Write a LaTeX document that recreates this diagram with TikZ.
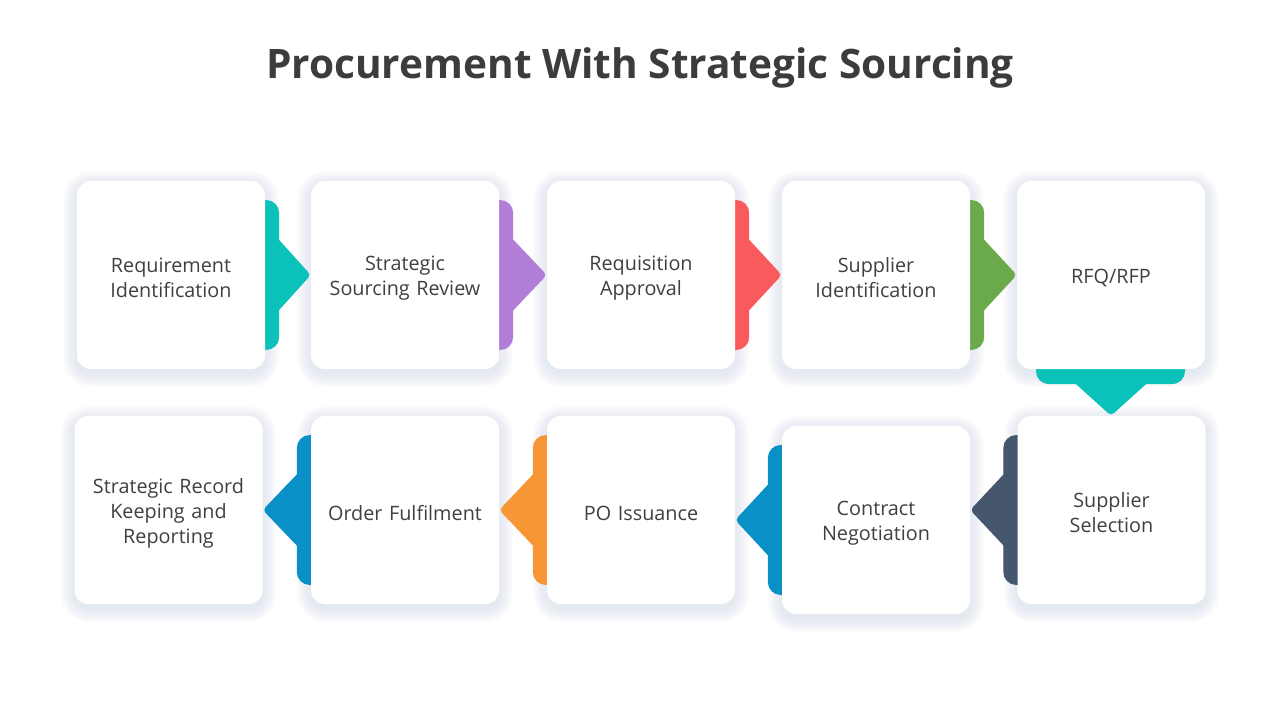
\documentclass[tikz,border=0pt]{standalone}
\usepackage{fontspec}
\setmainfont{Open Sans}
\usetikzlibrary{calc}
\definecolor{txt}{HTML}{404040}
\definecolor{ttl}{HTML}{3C3C3C}
\definecolor{cteal}{HTML}{0AC2BA}
\definecolor{cpurple}{HTML}{B27DD7}
\definecolor{cred}{HTML}{F95A5D}
\definecolor{cgreen}{HTML}{6BAA4A}
\definecolor{cslate}{HTML}{46566D}
\definecolor{cblue}{HTML}{0990C6}
\definecolor{corange}{HTML}{F79634}
\definecolor{shadowc}{RGB}{190,199,218}
\pgfdeclarelayer{shadowlayer}
\pgfdeclarelayer{connlayer}
\pgfsetlayers{shadowlayer,connlayer,main}
\newcommand{\rconn}[3]{%
  \fill[#3, rounded corners=13pt] ($(#1.east)+(-20,-75)$) rectangle ($(#1.east)+(14,75)$);
  \fill[#3, rounded corners=4pt] ($(#1.east)+(4,-46)$) -- (#2.west |- #1.east) -- ($(#1.east)+(4,46)$) -- cycle;
}
\newcommand{\lconn}[3]{%
  \fill[#3, rounded corners=13pt] ($(#1.west)+(20,-75)$) rectangle ($(#1.west)+(-14,75)$);
  \fill[#3, rounded corners=4pt] ($(#1.west)+(-4,-46)$) -- (#2.east |- #1.west) -- ($(#1.west)+(-4,46)$) -- cycle;
}
\newcommand{\boxshadow}[1]{%
  \foreach \i in {1,...,14}{
    \fill[shadowc, opacity=0.022, rounded corners=14pt+\i pt]
      ($(#1.north west)+(-\i,-\i+4)$) rectangle ($(#1.south east)+(\i,\i+4)$);
  }
}
\begin{document}
\begin{tikzpicture}[x=1pt,y=-1pt,
  box/.style={rectangle, rounded corners=14pt, fill=white, minimum width=188pt,
    minimum height=188pt, inner sep=0pt},
  lbl/.style={inner sep=0pt, text width=180pt, align=center,
    font=\fontsize{19.8}{25}\selectfont, text=txt}]
\useasboundingbox (0,0) rectangle (1280,720);
\node[font=\bfseries\fontsize{40.6}{48}\selectfont, text=ttl] (title) at (640,68) {Procurement With Strategic Sourcing};
% boxes
\node[box] (b1) at (171,275) {};
\node[box] (b2) at (405,275) {};
\node[box] (b3) at (641,275) {};
\node[box] (b4) at (876,275) {};
\node[box] (b5) at (1111,275) {};
\node[box] (b6) at (1111.5,510) {};
\node[box] (b7) at (876,520) {};
\node[box] (b8) at (641,510) {};
\node[box] (b9) at (405,510) {};
\node[box] (b10) at (168.5,510) {};
% texts
\node[lbl] (t1) at ($(b1)+(0,3)$) {Requirement\\Identification};
\node[lbl] (t2) at ($(b2)+(0,3)$) {Strategic\\Sourcing Review};
\node[lbl] (t3) at ($(b3)+(0,3)$) {Requisition\\Approval};
\node[lbl] (t4) at ($(b4)+(0,3)$) {Supplier\\Identification};
\node[lbl] (t5) at ($(b5)+(0,3)$) {RFQ/RFP};
\node[lbl] (t6) at ($(b6)+(0,3)$) {Supplier\\Selection};
\node[lbl] (t7) at ($(b7)+(0,3)$) {Contract\\Negotiation};
\node[lbl] (t8) at ($(b8)+(0,3)$) {PO Issuance};
\node[lbl] (t9) at ($(b9)+(0,3)$) {Order Fulfilment};
\node[lbl] (t10) at ($(b10)+(0,3)$) {Strategic Record\\Keeping and\\Reporting};
\begin{pgfonlayer}{connlayer}
  \rconn{b1}{b2}{cteal}
  \rconn{b2}{b3}{cpurple}
  \rconn{b3}{b4}{cred}
  \rconn{b4}{b5}{cgreen}
  \fill[cteal, rounded corners=13pt] ($(b5.south)+(-75,-20)$) rectangle ($(b5.south)+(74,15)$);
  \fill[cteal, rounded corners=4pt] ($(b5.south)+(-46,5)$) -- (b5.south |- b6.north) -- ($(b5.south)+(46,5)$) -- cycle;
  \lconn{b6}{b7}{cslate}
  \lconn{b7}{b8}{cblue}
  \lconn{b8}{b9}{corange}
  \lconn{b9}{b10}{cblue}
\end{pgfonlayer}
\begin{pgfonlayer}{shadowlayer}
  \fill[white] (0,0) rectangle (1280,720);
  \foreach \b in {b1,b2,b3,b4,b5,b6,b7,b8,b9,b10}{\boxshadow{\b}}
\end{pgfonlayer}
\end{tikzpicture}
\end{document}
